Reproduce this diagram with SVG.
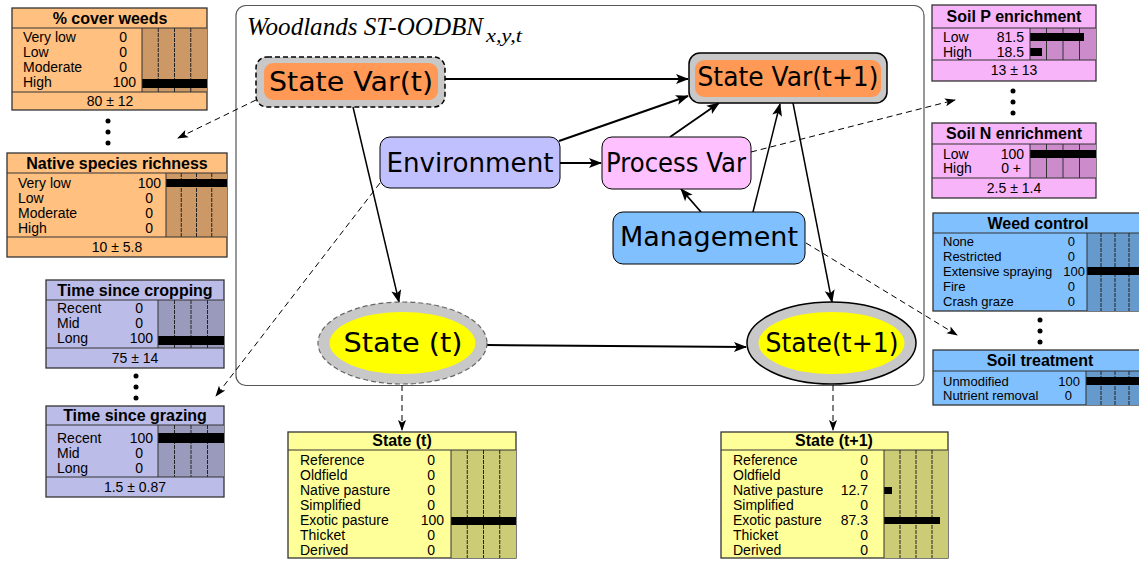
<svg xmlns="http://www.w3.org/2000/svg" width="1139" height="562" viewBox="0 0 1139 562">
<defs>
<marker id="ah" markerUnits="userSpaceOnUse" markerWidth="16" markerHeight="12" refX="0" refY="0" viewBox="-14 -6 16 12" orient="auto" overflow="visible">
<path d="M1,0 L-12,-5 L-9,0 L-12,5 Z" fill="#000"/>
</marker>
<marker id="ahs" markerUnits="userSpaceOnUse" markerWidth="14" markerHeight="10" refX="0" refY="0" viewBox="-12 -5 14 10" orient="auto" overflow="visible">
<path d="M1,0 L-10,-4 L-7.5,0 L-10,4 Z" fill="#000"/>
</marker>
</defs>
<style>
text{font-family:"Liberation Sans",Arial,sans-serif;fill:#000}
.ttl{font-family:"Liberation Serif","Times New Roman",serif;font-style:italic}
.t{font-size:16px;font-weight:bold;text-anchor:middle}
.r{font-size:14px}
.rs{font-size:13px}
.v{font-size:14px;text-anchor:end}
.vs{font-size:13px;text-anchor:end}
.f{font-size:14px;text-anchor:middle}
.pb{stroke:#333;stroke-width:1.3}
.ln{stroke:#333;stroke-width:1;fill:none}
.gd{stroke:#222;stroke-width:1;stroke-dasharray:4 1;fill:none}
.gs{stroke:#333;stroke-width:1;fill:none}
.bar{fill:#000}
.oA{fill:#ffc080}.oB{fill:#cc9966}
.lA{fill:#bcbce8}.lB{fill:#9a9abc}
.kA{fill:#f8b4f8}.kB{fill:#cc8ccc}
.bA{fill:#80c0ff}.bB{fill:#6699cc}
.yA{fill:#ffff99}.yB{fill:#cccc77}
.nl{font-family:"DejaVu Sans",sans-serif;font-size:26px;text-anchor:middle}
.c{stroke:#000;fill:none}
.d{stroke:#000;stroke-width:1;stroke-dasharray:6 4;fill:none}
</style>

<rect id="frame" x="236" y="5.5" width="688" height="380" rx="10" fill="#fff" stroke="#555" stroke-width="1.2"/>
<text class="ttl" x="247" y="35" font-size="24.5" textLength="236" lengthAdjust="spacingAndGlyphs">Woodlands ST-OODBN</text>
<text class="ttl" x="486" y="42" font-size="19" textLength="36" lengthAdjust="spacingAndGlyphs">x,y,t</text>

<!-- Panels -->
<g id="cover-weeds">
<rect class="oA pb" x="12" y="8" width="195" height="102"/>
<rect class="oB" x="142" y="28" width="65" height="64"/>
<line class="gd" x1="158.25" y1="28" x2="158.25" y2="92"/><line class="gd" x1="174.5" y1="28" x2="174.5" y2="92"/><line class="gd" x1="190.75" y1="28" x2="190.75" y2="92"/>
<rect class="bar" x="142" y="79" width="65" height="9"/>
<line class="ln" x1="12" y1="28" x2="207" y2="28"/><line class="ln" x1="12" y1="92" x2="207" y2="92"/><line class="ln" x1="142" y1="28" x2="142" y2="92"/>
<text class="t" x="110" y="24">% cover weeds</text>
<text class="r" x="23" y="42">Very low</text><text class="v" x="127" y="42">0</text>
<text class="r" x="23" y="57">Low</text><text class="v" x="127" y="57">0</text>
<text class="r" x="23" y="72">Moderate</text><text class="v" x="127" y="72">0</text>
<text class="r" x="23" y="87">High</text><text class="v" x="136" y="87">100</text>
<text class="f" x="110" y="106">80 ± 12</text>
</g>

<g id="native-richness">
<rect class="oA pb" x="7" y="153" width="220" height="104"/>
<rect class="oB" x="166" y="173" width="61" height="64"/>
<line class="gd" x1="181.25" y1="173" x2="181.25" y2="237"/><line class="gd" x1="196.5" y1="173" x2="196.5" y2="237"/><line class="gd" x1="211.75" y1="173" x2="211.75" y2="237"/>
<rect class="bar" x="166" y="179" width="61" height="8"/>
<line class="ln" x1="7" y1="173" x2="227" y2="173"/><line class="ln" x1="7" y1="237" x2="227" y2="237"/><line class="ln" x1="166" y1="173" x2="166" y2="237"/>
<text class="t" x="117" y="169">Native species richness</text>
<text class="r" x="18" y="188">Very low</text><text class="v" x="161" y="188">100</text>
<text class="r" x="18" y="203">Low</text><text class="v" x="153" y="203">0</text>
<text class="r" x="18" y="218">Moderate</text><text class="v" x="153" y="218">0</text>
<text class="r" x="18" y="233">High</text><text class="v" x="153" y="233">0</text>
<text class="f" x="117" y="252">10 ± 5.8</text>
</g>

<g id="time-cropping">
<rect class="lA pb" x="46" y="280" width="178" height="88"/>
<rect class="lB" x="158" y="300" width="66" height="48"/>
<line class="gd" x1="174.5" y1="300" x2="174.5" y2="348"/><line class="gd" x1="191" y1="300" x2="191" y2="348"/><line class="gd" x1="207.5" y1="300" x2="207.5" y2="348"/>
<rect class="bar" x="158" y="336" width="66" height="9"/>
<line class="ln" x1="46" y1="300" x2="224" y2="300"/><line class="ln" x1="46" y1="348" x2="224" y2="348"/><line class="ln" x1="158" y1="300" x2="158" y2="348"/>
<text class="t" x="135" y="296">Time since cropping</text>
<text class="r" x="57" y="313">Recent</text><text class="v" x="143" y="313">0</text>
<text class="r" x="57" y="328">Mid</text><text class="v" x="143" y="328">0</text>
<text class="r" x="57" y="343">Long</text><text class="v" x="153" y="343">100</text>
<text class="f" x="135" y="363">75 ± 14</text>
</g>

<g id="time-grazing">
<rect class="lA pb" x="46" y="406" width="178" height="91"/>
<rect class="lB" x="158" y="425" width="66" height="52"/>
<line class="gd" x1="174.5" y1="425" x2="174.5" y2="477"/><line class="gd" x1="191" y1="425" x2="191" y2="477"/><line class="gd" x1="207.5" y1="425" x2="207.5" y2="477"/>
<rect class="bar" x="158" y="433" width="66" height="10"/>
<line class="ln" x1="46" y1="425" x2="224" y2="425"/><line class="ln" x1="46" y1="477" x2="224" y2="477"/><line class="ln" x1="158" y1="425" x2="158" y2="477"/>
<text class="t" x="135" y="421">Time since grazing</text>
<text class="r" x="57" y="443">Recent</text><text class="v" x="153" y="443">100</text>
<text class="r" x="57" y="458">Mid</text><text class="v" x="143" y="458">0</text>
<text class="r" x="57" y="473">Long</text><text class="v" x="143" y="473">0</text>
<text class="f" x="135" y="492">1.5 ± 0.87</text>
</g>

<g id="soil-p">
<rect class="kA pb" x="932" y="5" width="164" height="76"/>
<rect class="kB" x="1030" y="28" width="66" height="32"/>
<line class="gs" x1="1046.5" y1="28" x2="1046.5" y2="60"/><line class="gs" x1="1063" y1="28" x2="1063" y2="60"/><line class="gs" x1="1079.5" y1="28" x2="1079.5" y2="60"/>
<rect class="bar" x="1030" y="33" width="54" height="8"/>
<rect class="bar" x="1030" y="48" width="12" height="8"/>
<line class="ln" x1="932" y1="28" x2="1096" y2="28"/><line class="ln" x1="932" y1="60" x2="1096" y2="60"/><line class="ln" x1="1030" y1="28" x2="1030" y2="60"/>
<text class="t" x="1014" y="22">Soil P enrichment</text>
<text class="r" x="943" y="42">Low</text><text class="v" x="1024" y="42">81.5</text>
<text class="r" x="943" y="57">High</text><text class="v" x="1024" y="57">18.5</text>
<text class="f" x="1014" y="75">13 ± 13</text>
</g>

<g id="soil-n">
<rect class="kA pb" x="932" y="123" width="164" height="75"/>
<rect class="kB" x="1030" y="144" width="66" height="34"/>
<line class="gs" x1="1046.5" y1="144" x2="1046.5" y2="178"/><line class="gs" x1="1063" y1="144" x2="1063" y2="178"/><line class="gs" x1="1079.5" y1="144" x2="1079.5" y2="178"/>
<rect class="bar" x="1030" y="150" width="66" height="8"/>
<line class="ln" x1="932" y1="144" x2="1096" y2="144"/><line class="ln" x1="932" y1="178" x2="1096" y2="178"/><line class="ln" x1="1030" y1="144" x2="1030" y2="178"/>
<text class="t" x="1014" y="139">Soil N enrichment</text>
<text class="r" x="943" y="159">Low</text><text class="v" x="1024" y="159">100</text>
<text class="r" x="943" y="173">High</text><text class="v" x="1021" y="173">0 +</text>
<text class="f" x="1014" y="193">2.5 ± 1.4</text>
</g>

<g id="weed-control">
<rect class="bA pb" x="933" y="213" width="210" height="98"/>
<rect class="bB" x="1087" y="233" width="56" height="78"/>
<line class="gd" x1="1101" y1="233" x2="1101" y2="311"/><line class="gd" x1="1115" y1="233" x2="1115" y2="311"/><line class="gd" x1="1129" y1="233" x2="1129" y2="311"/>
<rect class="bar" x="1087" y="267" width="56" height="8"/>
<line class="ln" x1="933" y1="233" x2="1143" y2="233"/><line class="ln" x1="1087" y1="233" x2="1087" y2="311"/>
<text class="t" x="1038" y="229">Weed control</text>
<text class="rs" x="943" y="246">None</text><text class="vs" x="1075" y="246">0</text>
<text class="rs" x="943" y="261">Restricted</text><text class="vs" x="1075" y="261">0</text>
<text class="rs" x="943" y="276">Extensive spraying</text><text class="vs" x="1085" y="276">100</text>
<text class="rs" x="943" y="291">Fire</text><text class="vs" x="1075" y="291">0</text>
<text class="rs" x="943" y="306">Crash graze</text><text class="vs" x="1075" y="306">0</text>
</g>

<g id="soil-treatment">
<rect class="bA pb" x="933" y="350" width="210" height="55"/>
<rect class="bB" x="1086" y="371" width="57" height="34"/>
<line class="gd" x1="1101" y1="371" x2="1101" y2="405"/><line class="gd" x1="1115" y1="371" x2="1115" y2="405"/><line class="gd" x1="1129" y1="371" x2="1129" y2="405"/>
<rect class="bar" x="1086" y="377" width="57" height="8"/>
<line class="ln" x1="933" y1="371" x2="1143" y2="371"/><line class="ln" x1="1086" y1="371" x2="1086" y2="405"/>
<text class="t" x="1040" y="366">Soil treatment</text>
<text class="rs" x="943" y="386">Unmodified</text><text class="vs" x="1080" y="386">100</text>
<text class="rs" x="943" y="400">Nutrient removal</text><text class="vs" x="1072" y="400">0</text>
</g>

<g id="state-t-table">
<rect class="yA pb" x="288" y="432" width="228" height="126"/>
<rect class="yB" x="451" y="450" width="65" height="108"/>
<line class="gd" x1="467.25" y1="450" x2="467.25" y2="558"/><line class="gd" x1="483.5" y1="450" x2="483.5" y2="558"/><line class="gd" x1="499.75" y1="450" x2="499.75" y2="558"/>
<rect class="bar" x="451" y="517" width="65" height="8"/>
<line class="ln" x1="288" y1="450" x2="516" y2="450"/><line class="ln" x1="451" y1="450" x2="451" y2="558"/>
<text class="t" x="402" y="446">State (t)</text>
<text class="r" x="300" y="465">Reference</text><text class="v" x="435" y="465">0</text>
<text class="r" x="300" y="480">Oldfield</text><text class="v" x="435" y="480">0</text>
<text class="r" x="300" y="495">Native pasture</text><text class="v" x="435" y="495">0</text>
<text class="r" x="300" y="510">Simplified</text><text class="v" x="435" y="510">0</text>
<text class="r" x="300" y="525">Exotic pasture</text><text class="v" x="444" y="525">100</text>
<text class="r" x="300" y="540">Thicket</text><text class="v" x="435" y="540">0</text>
<text class="r" x="300" y="555">Derived</text><text class="v" x="435" y="555">0</text>
</g>

<g id="state-t1-table">
<rect class="yA pb" x="721" y="432" width="227" height="126"/>
<rect class="yB" x="884" y="450" width="64" height="108"/>
<line class="gd" x1="900" y1="450" x2="900" y2="558"/><line class="gd" x1="916" y1="450" x2="916" y2="558"/><line class="gd" x1="932" y1="450" x2="932" y2="558"/>
<rect class="bar" x="884" y="487" width="8" height="7"/>
<rect class="bar" x="884" y="517" width="56" height="7"/>
<line class="ln" x1="721" y1="450" x2="948" y2="450"/><line class="ln" x1="884" y1="450" x2="884" y2="558"/>
<text class="t" x="834" y="446">State (t+1)</text>
<text class="r" x="733" y="465">Reference</text><text class="v" x="868" y="465">0</text>
<text class="r" x="733" y="480">Oldfield</text><text class="v" x="868" y="480">0</text>
<text class="r" x="733" y="495">Native pasture</text><text class="v" x="868" y="495">12.7</text>
<text class="r" x="733" y="510">Simplified</text><text class="v" x="868" y="510">0</text>
<text class="r" x="733" y="525">Exotic pasture</text><text class="v" x="868" y="525">87.3</text>
<text class="r" x="733" y="540">Thicket</text><text class="v" x="868" y="540">0</text>
<text class="r" x="733" y="555">Derived</text><text class="v" x="868" y="555">0</text>
</g>

<g id="ellipsis-dots" fill="#000">
<circle cx="108" cy="121" r="2.5"/><circle cx="108" cy="132" r="2.5"/><circle cx="108" cy="143" r="2.5"/>
<circle cx="136" cy="376" r="2.5"/><circle cx="136" cy="387" r="2.5"/><circle cx="136" cy="398" r="2.5"/>
<circle cx="1013" cy="91" r="2.5"/><circle cx="1013" cy="102" r="2.5"/><circle cx="1013" cy="113" r="2.5"/>
<circle cx="1040" cy="320" r="2.5"/><circle cx="1040" cy="331" r="2.5"/><circle cx="1040" cy="342" r="2.5"/>
</g>

<!-- Connectors -->
<g id="connectors">
<path class="c" stroke-width="2.2" d="M445,79 L688,79" marker-end="url(#ah)"/>
<path class="c" stroke-width="1.5" d="M353,107 L399,302" marker-end="url(#ah)"/>
<path class="c" stroke-width="2" d="M560,163 L601,163" marker-end="url(#ah)"/>
<path class="c" stroke-width="2.2" d="M559,141 L688,96" marker-end="url(#ah)"/>
<path class="c" stroke-width="1.8" d="M670,137 L719,103" marker-end="url(#ah)"/>
<path class="c" stroke-width="1.5" d="M753,212 L780,104" marker-end="url(#ah)"/>
<path class="c" stroke-width="1.8" d="M701,212 L681,189" marker-end="url(#ah)"/>
<path class="c" stroke-width="1.5" d="M793,103 L832,302" marker-end="url(#ah)"/>
<path class="c" stroke-width="2" d="M487,345 L746,347" marker-end="url(#ah)"/>
<path class="d" d="M256,100 L178,138" marker-end="url(#ahs)"/>
<path class="d" d="M380,183 L216,396" marker-end="url(#ahs)"/>
<path class="d" d="M751,152 L955,100" marker-end="url(#ahs)"/>
<path class="d" d="M806,243 L957,335" marker-end="url(#ahs)"/>
<path class="d" d="M402,385 L402,430" marker-end="url(#ahs)"/>
<path class="d" d="M833,385 L833,430" marker-end="url(#ahs)"/>
</g>

<!-- Nodes -->
<g id="state-var-t">
<rect x="256" y="57" width="189" height="50" rx="11" fill="#c8c8c8" stroke="#000" stroke-width="1.5" stroke-dasharray="5 3"/>
<rect x="264" y="63" width="174" height="37" rx="9" fill="#ff9955"/>
<text class="nl" x="351" y="91" font-size="29" textLength="164" lengthAdjust="spacingAndGlyphs">State Var(t)</text>
</g>
<g id="state-var-t1">
<rect x="689" y="53" width="198" height="50" rx="11" fill="#c8c8c8" stroke="#000" stroke-width="1.5"/>
<rect x="695" y="60" width="186" height="37" rx="9" fill="#ff9955"/>
<text class="nl" x="788" y="86" font-size="27" textLength="181" lengthAdjust="spacingAndGlyphs">State Var(t+1)</text>
</g>
<g id="environment">
<rect x="380" y="137" width="180" height="51" rx="10" fill="#c0c0ff" stroke="#000" stroke-width="1"/>
<text class="nl" x="470" y="172" textLength="167" lengthAdjust="spacingAndGlyphs">Environment</text>
</g>
<g id="process-var">
<rect x="602" y="137" width="149" height="52" rx="10" fill="#ffc0ff" stroke="#000" stroke-width="1"/>
<text class="nl" x="676" y="172" textLength="140" lengthAdjust="spacingAndGlyphs">Process Var</text>
</g>
<g id="management">
<rect x="613" y="212" width="192" height="52" rx="10" fill="#80c0ff" stroke="#000" stroke-width="1"/>
<text class="nl" x="709" y="246" textLength="178" lengthAdjust="spacingAndGlyphs">Management</text>
</g>
<g id="state-t">
<ellipse cx="402.5" cy="343" rx="84.5" ry="41" fill="#c8c8c8" stroke="#666" stroke-width="1.2" stroke-dasharray="5 3"/>
<ellipse cx="402.5" cy="343" rx="73" ry="31" fill="#ffff00"/>
<text class="nl" x="403" y="352" font-size="27" textLength="119" lengthAdjust="spacingAndGlyphs">State (t)</text>
</g>
<g id="state-t1">
<ellipse cx="831.5" cy="343" rx="84.5" ry="41" fill="#c8c8c8" stroke="#000" stroke-width="1.5"/>
<ellipse cx="831.5" cy="343" rx="73" ry="31" fill="#ffff00"/>
<text class="nl" x="832" y="352" font-size="27" textLength="133" lengthAdjust="spacingAndGlyphs">State(t+1)</text>
</g>
</svg>
